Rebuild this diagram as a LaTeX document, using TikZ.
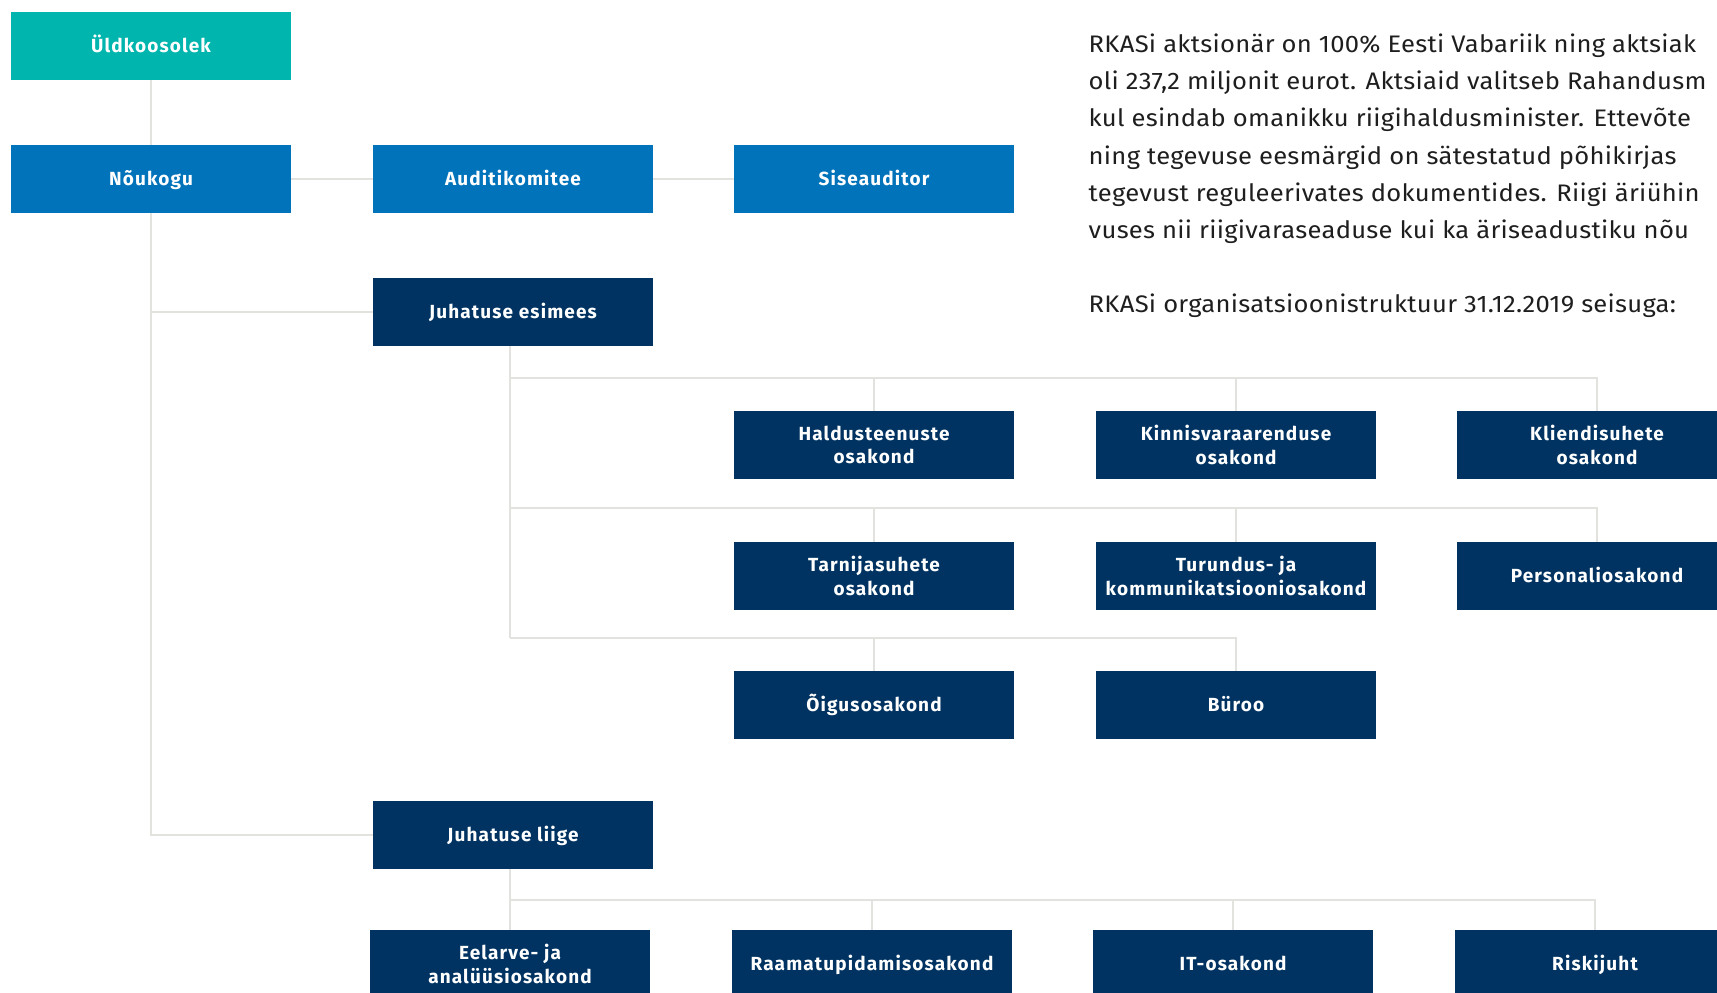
\documentclass[tikz,border=0pt]{standalone}
\usepackage{fontspec}
\setmainfont{Fira Sans}
\newfontfamily\boxfont[LetterSpace=6]{Fira Sans}
\newfontfamily\introfont[FakeStretch=1.07, LetterSpace=1.2]{Fira Sans}
\usepackage{xcolor}
\usepackage{tikz}
\usetikzlibrary{positioning}
\definecolor{rkasTeal}{HTML}{00B5AD}
\definecolor{rkasBlue}{HTML}{0073BA}
\definecolor{rkasNavy}{HTML}{003361}
\definecolor{wire}{HTML}{E2E2DF}
\definecolor{ink}{HTML}{1E1E1E}

\begin{document}
\begin{tikzpicture}[x=0.1mm, y=-0.1mm,
  every node/.style={color=ink},
  orgbox/.style={
    rectangle, fill=rkasNavy, inner sep=0pt, outer sep=0pt,
    minimum width=28mm, minimum height=6.8mm, align=center,
    text=white, font=\boxfont\bfseries\fontsize{5.4}{6.8}\selectfont
  },
  oneline/.style={text height=3.8pt, text depth=0pt},
  orgtop/.style={orgbox, oneline, fill=rkasTeal},
  orgboard/.style={orgbox, oneline, fill=rkasBlue},
  link/.style={draw=wire, line width=0.55pt},
  intro/.style={anchor=base west, inner sep=0pt, font=\introfont\fontsize{6.8}{8}\selectfont}
]
\path[use as bounding box, clip] (0,0) rectangle (1717,993);

% board level
\node[orgtop] (uld) at (151,46) {Üldkoosolek};
\node[orgboard] (nou) at (151,179) {Nõukogu};
\node[orgboard] (audit) at (513,179) {Auditikomitee};
\node[orgboard] (sise) at (874,179) {Siseauditor};

% management
\node[orgbox, oneline] (esim) at (513,312) {Juhatuse esimees};
\node[orgbox, oneline] (liige) at (513,835) {Juhatuse liige};

% departments under the chairman
\node[orgbox] (hald) at (874,445) {Haldusteenuste\\osakond};
\node[orgbox] (kinn) at (1236,445) {Kinnisvaraarenduse\\osakond};
\node[orgbox] (klie) at (1597,445) {Kliendisuhete\\osakond};
\node[orgbox] (tarn) at (874,576) {Tarnijasuhete\\osakond};
\node[orgbox] (turu) at (1236,576) {Turundus- ja\\kommunikatsiooniosakond};
\node[orgbox, oneline] (pers) at (1597,576) {Personaliosakond};
\node[orgbox, oneline] (oigus) at (874,705) {Õigusosakond};
\node[orgbox, oneline] (buroo) at (1236,705) {Büroo};

% departments under the member
\node[orgbox] (eelarve) at (510,964) {Eelarve- ja\\analüüsiosakond};
\node[orgbox, oneline] (raama) at (872,964) {Raamatupidamisosakond};
\node[orgbox, oneline] (it) at (1233,964) {IT-osakond};
\node[orgbox, oneline] (risk) at (1595,964) {Riskijuht};

% bus points
\coordinate (busA) at (510,378);
\coordinate (busB) at (510,508);
\coordinate (busC) at (510,638);
\coordinate (busD) at (510,900);

% connectors
\draw[link] (uld) -- (nou);
\draw[link] (nou) -- (audit);
\draw[link] (audit) -- (sise);
\draw[link] (nou.south) |- (esim.west);
\draw[link] (nou.south) |- (liige.west);
\draw[link] (esim.south -| busA) -- (busC);
\foreach \d in {hald, kinn, klie} \draw[link] (busA) -| (\d.north);
\foreach \d in {tarn, turu, pers} \draw[link] (busB) -| (\d.north);
\foreach \d in {oigus, buroo} \draw[link] (busC) -| (\d.north);
\draw[link] (liige.south -| busD) -- (eelarve.north);
\foreach \d in {raama, it, risk} \draw[link] (busD) -| (\d.north);

% intro text
\node[intro] (t1) at (1088,53) {RKASi aktsionär on 100\% Eesti Vabariik ning aktsiak};
\node[intro] (t2) at (1088,90) {oli 237,2 miljonit eurot. Aktsiaid valitseb Rahandusm};
\node[intro] (t3) at (1088,127) {kul esindab omanikku riigihaldusminister. Ettevõte};
\node[intro] (t4) at (1088,165) {ning tegevuse eesmärgid on sätestatud põhikirjas};
\node[intro] (t5) at (1088,202) {tegevust reguleerivates dokumentides. Riigi äriühin};
\node[intro] (t6) at (1088,239) {vuses nii riigivaraseaduse kui ka äriseadustiku nõu};
\node[intro] (t7) at (1088,313) {RKASi organisatsioonistruktuur 31.12.2019 seisuga:};
\end{tikzpicture}
\end{document}
